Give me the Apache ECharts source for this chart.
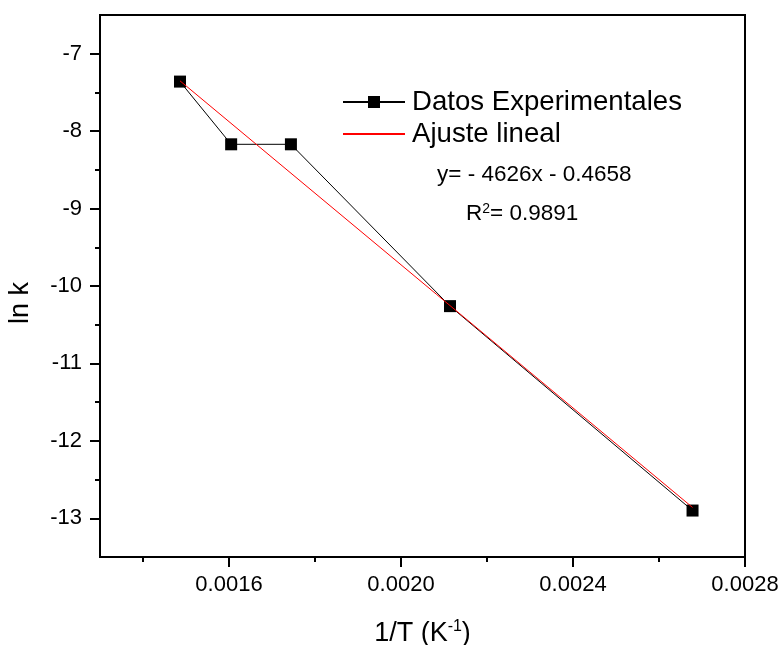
<!DOCTYPE html>
<html>
<head>
<meta charset="utf-8">
<script src="https://cdn.jsdelivr.net/npm/echarts@6/dist/echarts.min.js"></script>
<style>
html,body{margin:0;padding:0;background:#fff;}
#chart{width:782px;height:645px;}
</style>
</head>
<body>
<div id="chart"></div>
<script>
// Data
var expX = [0.001486, 0.001605, 0.001744, 0.002114, 0.002678];
var expY = [-7.36, -8.17, -8.17, -10.26, -12.90];
var fitX = [0.001486, 0.002678];
var fitY = [-7.35, -12.86];
var xMajorTicks = [0.0016, 0.0020, 0.0024, 0.0028];
var xMinorTicks = [0.0014, 0.0018, 0.0022, 0.0026];
var yMajorTicks = [-13, -12, -11, -10, -9, -8, -7];
var yMinorTicks = [-12.5, -11.5, -10.5, -9.5, -8.5, -7.5];
var seriesNames = ['Datos Experimentales', 'Ajuste lineal'];
var equationText = 'y= - 4626x - 0.4658';
var r2Value = '0.9891';

var FONT = "'Liberation Sans', Arial, sans-serif";
var chart = echarts.init(document.getElementById('chart'), null, {renderer: 'canvas'});

function pairs(xs, ys) { return xs.map(function (x, i) { return [x, ys[i]]; }); }

var baseX = {min: 0.0013, max: 0.0028, type: 'value', splitLine: {show: false}};
var baseY = {min: -13.5, max: -6.5, type: 'value', splitLine: {show: false}};

var option = {
  animation: false,
  backgroundColor: '#fff',
  textStyle: {fontFamily: FONT},
  grid: {left: 100, right: 37, top: 15, bottom: 88, outerBoundsMode: 'none', containLabel: false,
    show: true, borderColor: '#000', borderWidth: 2, backgroundColor: 'transparent'},
  xAxis: [
    Object.assign({}, baseX, {
      position: 'bottom',
      axisLine: {show: true, lineStyle: {color: '#000', width: 2}},
      axisTick: {show: true, length: 10, lineStyle: {color: '#000', width: 2}, customValues: xMajorTicks},
      axisLabel: {show: true, customValues: xMajorTicks, color: '#000', fontSize: 22, fontFamily: FONT, margin: 17,
        formatter: function (v) { return v.toFixed(4); }},
      name: '1/T (K{sup|-1})',
      nameLocation: 'middle',
      nameGap: 62,
      nameTextStyle: {color: '#000', fontSize: 27, fontFamily: FONT,
        rich: {sup: {fontSize: 16, verticalAlign: 'top', color: '#000', fontFamily: FONT, padding: [0, 0, 13, 0]}}}
    }),
    Object.assign({}, baseX, {
      position: 'bottom',
      axisLine: {show: false},
      axisTick: {show: true, length: 5, lineStyle: {color: '#000', width: 2}, customValues: xMinorTicks},
      axisLabel: {show: false}
    })
  ],
  yAxis: [
    Object.assign({}, baseY, {
      position: 'left',
      axisLine: {show: true, lineStyle: {color: '#000', width: 2}},
      axisTick: {show: true, length: 10, lineStyle: {color: '#000', width: 2}, customValues: yMajorTicks},
      axisLabel: {show: true, customValues: yMajorTicks, color: '#000', fontSize: 22, fontFamily: FONT, margin: 18},
      name: 'ln k',
      nameLocation: 'middle',
      nameGap: 66,
      nameRotate: 90,
      nameTextStyle: {color: '#000', fontSize: 27, fontFamily: FONT, padding: [0, 34, 0, 0]}
    }),
    Object.assign({}, baseY, {
      position: 'left',
      axisLine: {show: false},
      axisTick: {show: true, length: 5, lineStyle: {color: '#000', width: 2}, customValues: yMinorTicks},
      axisLabel: {show: false}
    })
  ],
  legend: {
    orient: 'vertical',
    left: 342,
    top: 88,
    padding: 0,
    itemGap: 4,
    itemWidth: 62,
    itemHeight: 15,
    data: seriesNames,
    textStyle: {color: '#000', fontSize: 27.6, fontFamily: FONT, lineHeight: 28, padding: [0, 0, 0, 2]}
  },
  graphic: [
    {type: 'text', left: 437, top: 163, style: {text: equationText, fill: '#000', font: '22.5px ' + FONT}},
    {type: 'text', left: 466, top: 202, style: {
      text: 'R{sup|2}= ' + r2Value, fill: '#000', font: '22.5px ' + FONT,
      rich: {sup: {fontSize: 14, fill: '#000', verticalAlign: 'top', padding: [0, 0, 10, 0], fontFamily: FONT}}
    }}
  ],
  series: [
    {
      name: seriesNames[0],
      type: 'line',
      xAxisIndex: 0, yAxisIndex: 0,
      data: pairs(expX, expY),
      symbol: 'rect',
      symbolSize: 12,
      lineStyle: {color: '#000', width: 1},
      itemStyle: {color: '#000'},
      z: 2
    },
    {
      name: seriesNames[1],
      type: 'line',
      xAxisIndex: 0, yAxisIndex: 0,
      data: pairs(fitX, fitY),
      symbol: 'none',
      showSymbol: false,
      lineStyle: {color: '#ff0000', width: 1},
      itemStyle: {color: '#ff0000', opacity: 0},
      z: 3
    }
  ]
};
chart.setOption(option);
</script>
</body>
</html>
